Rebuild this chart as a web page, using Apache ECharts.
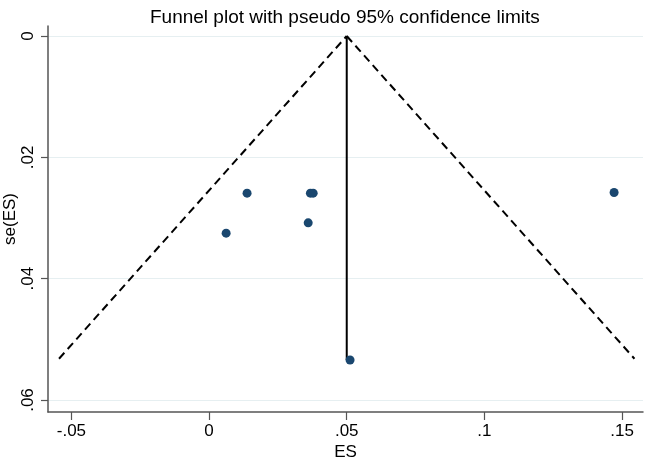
<!DOCTYPE html>
<html>
<head>
<meta charset="utf-8">
<script src="https://cdn.jsdelivr.net/npm/echarts@6/dist/echarts.min.js"></script>
<style>html,body{margin:0;padding:0;background:#fff;}#c{width:646px;height:461px;}</style>
</head>
<body>
<div id="c"></div>
<script>
// Study estimates (ES) and their standard errors se(ES)
const studyES = [0.0138, 0.0062, 0.0368, 0.0378, 0.0360, 0.1471, 0.0512];
const studySE = [0.0259, 0.0325, 0.0259, 0.0259, 0.0308, 0.0258, 0.0534];
// Pooled estimate line and pseudo 95% limits
const pooledX = [0.05, 0.05];
const pooledSE = [0, 0.0534];
const leftLimitX = [-0.0545, 0.05];
const rightLimitX = [0.05, 0.1545];
const limitSE = [0.0532, 0];
const limitSE2 = [0, 0.0532];
// Tick values
const xTicks = [-0.05, 0, 0.05, 0.1, 0.15];
const yTicks = [0, 0.02, 0.04, 0.06];

function stataFmt(v) {
  const r = Math.round(v * 1000) / 1000;
  if (r === 0) return '0';
  let s = String(r);
  s = s.replace(/^0\./, '.').replace(/^-0\./, '-.');
  return s;
}

const font = 'Liberation Sans, Arial, sans-serif';
const chart = echarts.init(document.getElementById('c'));
chart.setOption({
  animation: false,
  backgroundColor: '#ffffff',
  title: {
    text: 'Funnel plot with pseudo 95% confidence limits',
    left: 145, top: 3,
    textStyle: {fontFamily: font, fontSize: 19, fontWeight: 'normal', color: '#000'}
  },
  grid: {left: 48, right: 3, top: 26, bottom: 49, containLabel: false, outerBoundsMode: 'none'},
  xAxis: {
    type: 'value', min: -0.0585, max: 0.1576,
    name: 'ES', nameLocation: 'middle', nameGap: 32, nameMoveOverlap: false,
    nameTextStyle: {fontFamily: font, fontSize: 17, color: '#000'},
    axisLine: {show: true, onZero: false, lineStyle: {color: '#555', width: 1.5}},
    axisTick: {show: true, length: 8, customValues: xTicks, lineStyle: {color: '#555', width: 1.2}},
    axisLabel: {customValues: xTicks, margin: 11, fontFamily: font, fontSize: 17, color: '#000', formatter: stataFmt},
    splitLine: {show: false}
  },
  yAxis: {
    type: 'value', inverse: true, min: -0.00165, max: 0.06198,
    name: 'se(ES)', nameLocation: 'middle', nameGap: 29, nameRotate: 90, nameMoveOverlap: false,
    nameTextStyle: {fontFamily: font, fontSize: 17, color: '#000'},
    axisLine: {show: true, onZero: false, lineStyle: {color: '#555', width: 1.5}},
    axisTick: {show: true, length: 7, customValues: yTicks, lineStyle: {color: '#555', width: 1.2}},
    axisLabel: {customValues: yTicks, rotate: 90, margin: 11, fontFamily: font, fontSize: 17, color: '#000', formatter: stataFmt},
    splitLine: {show: true, lineStyle: {color: '#e6eff1', width: 1.2}}
  },
  series: [
    {
      type: 'line', data: leftLimitX.map((x, i) => [x, limitSE[i]]),
      symbol: 'none', lineStyle: {color: '#000', width: 2, type: [8, 5]}, z: 2
    },
    {
      type: 'line', data: rightLimitX.map((x, i) => [x, limitSE2[i]]),
      symbol: 'none', lineStyle: {color: '#000', width: 2, type: [8, 5]}, z: 2
    },
    {
      type: 'line', data: pooledX.map((x, i) => [x, pooledSE[i]]),
      symbol: 'none', lineStyle: {color: '#000', width: 2}, z: 2
    },
    {
      type: 'scatter', data: studyES.map((x, i) => [x, studySE[i]]),
      symbol: 'circle', symbolSize: 9,
      itemStyle: {color: '#1a476f', opacity: 1}, z: 3
    }
  ]
});
</script>
</body>
</html>
